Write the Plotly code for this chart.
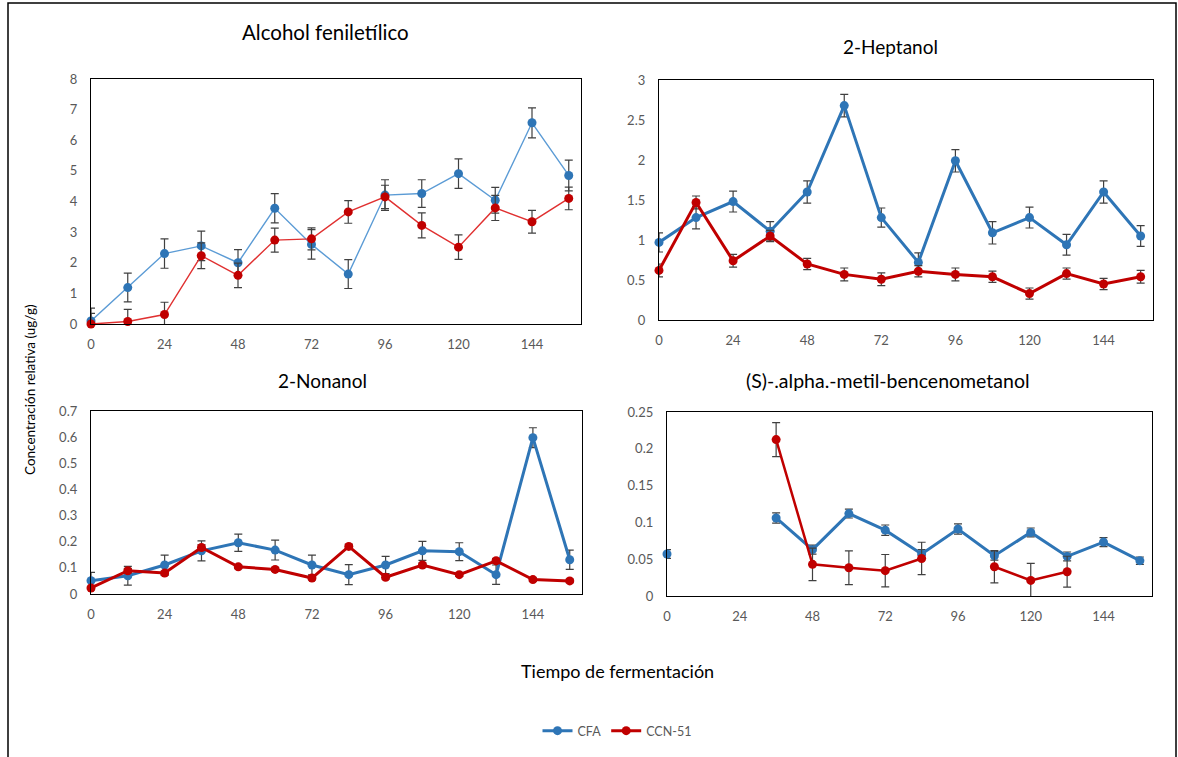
import plotly.graph_objects as go

# Tiempo de fermentación (horas)
horas = [0, 12, 24, 36, 48, 60, 72, 84, 96, 108, 120, 132, 144, 156]
ticks_x = [0, 24, 48, 72, 96, 120, 144]

# Alcohol feniletílico
fen_cfa = [0.10, 1.19, 2.30, 2.55, 2.00, 3.78, 2.60, 1.63, 4.21, 4.26, 4.91, 4.04, 6.57, 4.85]
fen_cfa_err = [0.42, 0.47, 0.48, 0.48, 0.43, 0.48, 0.48, 0.47, 0.50, 0.45, 0.48, 0.42, 0.49, 0.50]
fen_ccn = [0.0, 0.08, 0.31, 2.23, 1.59, 2.74, 2.78, 3.66, 4.15, 3.22, 2.51, 3.79, 3.34, 4.10]
fen_ccn_err = [0.35, 0.40, 0.40, 0.42, 0.40, 0.39, 0.36, 0.37, 0.38, 0.41, 0.40, 0.41, 0.37, 0.37]

# 2-Heptanol
hep_cfa = [0.97, 1.28, 1.48, 1.11, 1.60, 2.68, 1.28, 0.72, 1.99, 1.09, 1.28, 0.94, 1.60, 1.05]
hep_cfa_err = [0.12, 0.14, 0.13, 0.12, 0.14, 0.14, 0.12, 0.12, 0.14, 0.14, 0.13, 0.13, 0.14, 0.13]
hep_ccn = [0.62, 1.47, 0.74, 1.05, 0.70, 0.57, 0.51, 0.61, 0.57, 0.54, 0.33, 0.58, 0.45, 0.54]
hep_ccn_err = [0.08, 0.08, 0.08, 0.07, 0.07, 0.08, 0.08, 0.07, 0.08, 0.07, 0.07, 0.07, 0.07, 0.08]

# 2-Nonanol
non_cfa = [0.051, 0.070, 0.111, 0.165, 0.196, 0.168, 0.111, 0.074, 0.111, 0.165, 0.162, 0.074, 0.598, 0.131]
non_cfa_err = [0.032, 0.036, 0.038, 0.038, 0.033, 0.038, 0.038, 0.038, 0.033, 0.036, 0.034, 0.037, 0.038, 0.037]
non_ccn = [0.023, 0.089, 0.080, 0.178, 0.104, 0.094, 0.061, 0.182, 0.064, 0.111, 0.074, 0.127, 0.055, 0.050]
non_ccn_err = [0.007, 0.008, 0.008, 0.010, 0.007, 0.007, 0.007, 0.008, 0.007, 0.008, 0.007, 0.008, 0.007, 0.007]

# (S)-.alpha.-metil-bencenometanol
alfa_cfa = [0.057, None, None, 0.106, 0.063, 0.112, 0.0895, 0.057, 0.091, 0.0547, 0.0864, 0.0538, 0.0732, 0.048]
alfa_cfa_err = [0.006, 0, 0, 0.007, 0.006, 0.006, 0.007, 0.006, 0.007, 0.006, 0.006, 0.006, 0.006, 0.005]
alfa_ccn = [None, None, None, 0.2125, 0.043, 0.0384, 0.0344, 0.051, None, 0.0398, 0.0212, 0.033, None, None]
alfa_ccn_err = [0, 0, 0, 0.023, 0.022, 0.023, 0.022, 0.022, 0, 0.022, 0.023, 0.021, 0, 0]

W, H = 1178, 757
AZUL = "#2E75B6"
AZUL_CLARO = "#5B9BD5"
ROJO = "#C00000"
ROJO_CLARO = "#E03030"
GRIS = "#595959"
FUENTE = "Lato"


def px_x(p):
    return p / W


def px_y(p):
    return 1 - p / H


fig = go.Figure()

paneles = [
    # (sufijo eje, datos cfa, err, datos ccn, err, grosor/color línea cfa, grosor/color ccn, leyenda)
    ("", fen_cfa, fen_cfa_err, fen_ccn, fen_ccn_err, 1.4, AZUL_CLARO, 1.4, ROJO_CLARO, False),
    ("2", hep_cfa, hep_cfa_err, hep_ccn, hep_ccn_err, 3, AZUL, 3, ROJO, True),
    ("3", non_cfa, non_cfa_err, non_ccn, non_ccn_err, 3, AZUL, 3, ROJO, False),
    ("4", alfa_cfa, alfa_cfa_err, alfa_ccn, alfa_ccn_err, 3, AZUL, 2.5, ROJO, False),
]

for suf, ycfa, ecfa, yccn, eccn, wcfa, ccfa, wccn, cccn, leg in paneles:
    for nombre, yv, ev, lw, lc, mc in (
        ("CFA", ycfa, ecfa, wcfa, ccfa, AZUL),
        ("CCN-51", yccn, eccn, wccn, cccn, ROJO),
    ):
        fig.add_trace(go.Scatter(
            x=horas, y=yv, name=nombre, legendgroup=nombre, showlegend=leg,
            mode="lines+markers", connectgaps=False, cliponaxis=False,
            line=dict(color=lc, width=lw),
            marker=dict(color=mc, size=9, symbol="circle"),
            error_y=dict(type="data", array=ev, visible=True,
                         color="#404040", thickness=1.2, width=4),
            xaxis="x" + suf, yaxis="y" + suf,
        ))

dominios = {
    "": ((91, 581), (79, 324), [0, 8], 1),
    "2": ((659, 1153), (80, 320), [0, 3], 0.5),
    "3": ((91, 582), (411, 594), [0, 0.7], 0.1),
    "4": ((667, 1152), (412, 596), [0, 0.25], 0.05),
}

eje_comun = dict(showline=True, mirror=True, linecolor="#000000", linewidth=1.3,
                 showgrid=False, zeroline=False, ticks="", automargin=False,
                 tickfont=dict(family=FUENTE, size=13, color=GRIS))

for suf, ((x0, x1), (y0, y1), yr, dy) in dominios.items():
    fig.update_layout(**{
        "xaxis" + suf: dict(eje_comun, domain=[px_x(x0), px_x(x1)],
                            anchor="y" + suf, range=[0, 160],
                            tickmode="array", tickvals=ticks_x,
                            ticklabelstandoff=8),
        "yaxis" + suf: dict(eje_comun, domain=[px_y(y1), px_y(y0)],
                            anchor="x" + suf, range=yr, dtick=dy,
                            ticklabelstandoff=10),
    })

titulos = [
    ("Alcohol feniletílico", 325, 32, 20.5),
    ("2-Heptanol", 890, 47, 19),
    ("2-Nonanol", 322, 380, 19),
    ("(S)-.alpha.-metil-bencenometanol", 888, 380, 19.5),
]
for texto, cx, cy, fs in titulos:
    fig.add_annotation(text=texto, x=px_x(cx), y=px_y(cy), xref="paper", yref="paper",
                       showarrow=False, xanchor="center", yanchor="middle",
                       font=dict(family=FUENTE, size=fs, color="#000000"))

fig.add_annotation(text="Concentración relativa (ug/g)", x=px_x(30), y=px_y(390),
                   xref="paper", yref="paper", showarrow=False, textangle=-90,
                   xanchor="center", yanchor="middle",
                   font=dict(family=FUENTE, size=13.5, color="#000000"))
fig.add_annotation(text="Tiempo de fermentación", x=px_x(617), y=px_y(671),
                   xref="paper", yref="paper", showarrow=False,
                   xanchor="center", yanchor="middle",
                   font=dict(family=FUENTE, size=18, color="#000000"))

# Marco exterior del gráfico
fig.add_shape(type="rect", xref="paper", yref="paper",
              x0=px_x(8), x1=px_x(1176), y0=-0.05, y1=px_y(3),
              line=dict(color="#000000", width=1.5), layer="below")

fig.update_layout(
    width=W, height=H,
    margin=dict(l=0, r=0, t=0, b=0, pad=0, autoexpand=False),
    paper_bgcolor="#FFFFFF", plot_bgcolor="#FFFFFF",
    font=dict(family=FUENTE),
    legend=dict(orientation="h", x=px_x(617), xanchor="center",
                y=px_y(731), yanchor="middle",
                font=dict(family=FUENTE, size=12.5, color=GRIS),
                itemwidth=30, bgcolor="rgba(0,0,0,0)"),
)

fig.write_html("out.html")
